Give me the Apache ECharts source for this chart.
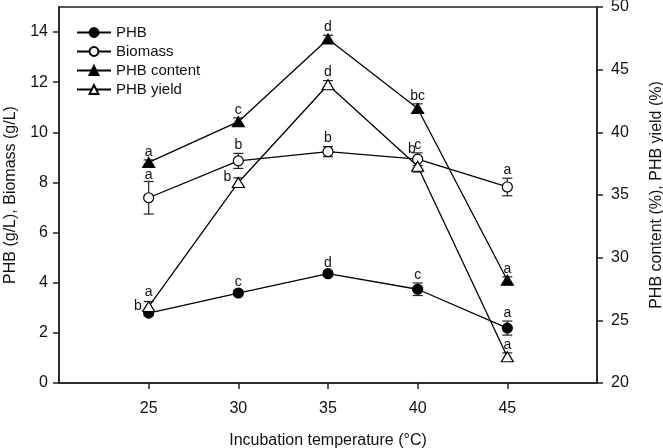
<!DOCTYPE html>
<html><head><meta charset="utf-8">
<script src="https://cdn.jsdelivr.net/npm/echarts@6/dist/echarts.min.js"></script>
<style>html,body{margin:0;padding:0;background:#fff}#c{width:663px;height:448px}</style>
</head><body><div id="c"></div><script>
// ---- data ----
const temperatures = [25, 30, 35, 40, 45];
const phb = [2.79, 3.59, 4.36, 3.74, 2.19];
const phbErr = [0.1, 0.1, 0.1, 0.25, 0.28];
const phbLetters = ['a', 'c', 'd', 'c', 'a'];
const biomass = [7.39, 8.86, 9.23, 8.93, 7.82];
const biomassErr = [0.65, 0.3, 0.2, 0.25, 0.35];
const biomassLetters = ['a', 'b', 'b', 'c', 'a'];
const phbContent = [37.6, 40.85, 47.45, 41.9, 28.2];
const phbContentErr = [0.2, 0.3, 0.3, 0.37, 0.27];
const phbContentLetters = ['a', 'c', 'd', 'bc', 'a'];
const phbYield = [26.1, 36.0, 43.8, 37.3, 22.1];
const phbYieldErr = [0.4, 0.37, 0.33, 0.47, 0.3];
const phbYieldLetters = ['b', 'b', 'd', 'b', 'a'];
const xTicks = [25, 30, 35, 40, 45];
const leftTicks = [0, 2, 4, 6, 8, 10, 12, 14];

// ---- style (letter placement tweaks) ----
const T = {mode: 'top'};
const phbPlace = [{mode: 'top', dy: -10}, T, T, T, T];
const biomassPlace = [{mode: 'top', dy: 2}, T, T, T, T];
const contentPlace = [T, T, T, T, T];
const yieldPlace = [{mode: 'left'}, {mode: 'left', dy: -5}, T, {mode: 'left', dx: 5, dy: -17}, T];

const FONT = '"Liberation Sans", Arial, sans-serif';
const INK = '#111';

function errSeries(name, yAxisIndex, ys, errs, letters, place) {
  return {
    type: 'custom', name: name, yAxisIndex: yAxisIndex, z: 1, silent: true,
    data: temperatures.map((t, i) => [t, ys[i], errs[i], i]),
    renderItem: function (params, api) {
      const x = api.value(0), y = api.value(1), e = api.value(2), i = api.value(3);
      const c = api.coord([x, y]), top = api.coord([x, y + e]), bot = api.coord([x, y - e]);
      const hw = 5;
      const st = {stroke: '#222', lineWidth: 1.2};
      const children = [
        {type: 'line', shape: {x1: c[0], y1: top[1], x2: c[0], y2: bot[1]}, style: st},
        {type: 'line', shape: {x1: c[0] - hw, y1: top[1], x2: c[0] + hw, y2: top[1]}, style: st},
        {type: 'line', shape: {x1: c[0] - hw, y1: bot[1], x2: c[0] + hw, y2: bot[1]}, style: st}
      ];
      const p = place[i] || T;
      let tx, ty, align, va;
      if (p.mode === 'left') {
        tx = c[0] - 7 + (p.dx || 0); ty = c[1] + (p.dy || 0); align = 'right'; va = 'middle';
      } else {
        tx = c[0] + (p.dx || 0); ty = top[1] - 1 + (p.dy || 0); align = 'center'; va = 'bottom';
      }
      children.push({type: 'text', x: tx, y: ty, z2: 5,
        style: {text: letters[i], fill: INK, font: '14px ' + FONT, align: align, verticalAlign: va}});
      return {type: 'group', children: children};
    }
  };
}

function lineSeries(name, yAxisIndex, ys, symbol, size, filled) {
  return {
    type: 'line', name: name, yAxisIndex: yAxisIndex, z: 3,
    data: temperatures.map((t, i) => [t, ys[i]]),
    symbol: symbol, symbolSize: size, showAllSymbol: true,
    itemStyle: {color: filled ? '#000' : '#fff', borderColor: '#000', borderWidth: 1.2, opacity: 1},
    lineStyle: {color: '#000', width: 1.3},
    emphasis: {disabled: true},
    animation: false
  };
}

const axisLineStyle = {color: '#222', width: 1.5};
const chart = echarts.init(document.getElementById('c'), null, {renderer: 'canvas'});
chart.setOption({
  animation: false,
  backgroundColor: '#fff',
  textStyle: {fontFamily: FONT},
  grid: {left: 59, right: 66, top: 7, bottom: 65, show: true, borderColor: '#222', borderWidth: 1.5,
         backgroundColor: 'transparent', containLabel: false, outerBoundsMode: 'none'},
  legend: {
    orient: 'vertical', left: 71, top: 20, itemWidth: 34, itemHeight: 11, itemGap: 4,
    data: ['PHB', 'Biomass', 'PHB content', 'PHB yield'],
    textStyle: {fontSize: 15, color: INK, fontFamily: FONT},
    selectedMode: false
  },
  xAxis: {
    type: 'value', min: 20, max: 50, interval: 5,
    name: 'Incubation temperature (°C)', nameLocation: 'middle', nameGap: 50,
    nameTextStyle: {fontSize: 16, color: INK, fontFamily: FONT},
    axisLine: {show: true, onZero: false, lineStyle: axisLineStyle},
    axisTick: {show: true, customValues: xTicks, length: 6, lineStyle: axisLineStyle},
    axisLabel: {customValues: xTicks, fontSize: 16, color: INK, margin: 18, fontFamily: FONT},
    splitLine: {show: false}
  },
  yAxis: [{
    type: 'value', min: 0, max: 15, interval: 1, position: 'left',
    name: 'PHB (g/L), Biomass (g/L)', nameLocation: 'middle', nameGap: 40,
    nameTextStyle: {fontSize: 16, color: INK, fontFamily: FONT},
    axisLine: {show: true, lineStyle: axisLineStyle},
    axisTick: {show: true, customValues: leftTicks, length: 6, lineStyle: axisLineStyle},
    axisLabel: {customValues: leftTicks, fontSize: 16, color: INK, margin: 11, fontFamily: FONT},
    splitLine: {show: false}
  }, {
    type: 'value', min: 20, max: 50, interval: 5, position: 'right',
    name: 'PHB content (%), PHB yield (%)', nameLocation: 'middle', nameGap: 52, nameRotate: 90,
    nameTextStyle: {fontSize: 16, color: INK, fontFamily: FONT},
    axisLine: {show: true, lineStyle: axisLineStyle},
    axisTick: {show: true, length: 6, lineStyle: axisLineStyle},
    axisLabel: {fontSize: 16, color: INK, margin: 14, fontFamily: FONT},
    splitLine: {show: false}
  }],
  series: [
    errSeries('e-phb', 0, phb, phbErr, phbLetters, phbPlace),
    errSeries('e-biomass', 0, biomass, biomassErr, biomassLetters, biomassPlace),
    errSeries('e-content', 1, phbContent, phbContentErr, phbContentLetters, contentPlace),
    errSeries('e-yield', 1, phbYield, phbYieldErr, phbYieldLetters, yieldPlace),
    lineSeries('PHB', 0, phb, 'circle', 10, true),
    lineSeries('Biomass', 0, biomass, 'circle', 10, false),
    lineSeries('PHB content', 1, phbContent, 'triangle', [12, 10], true),
    lineSeries('PHB yield', 1, phbYield, 'triangle', [12, 10], false)
  ]
});
</script></body></html>
